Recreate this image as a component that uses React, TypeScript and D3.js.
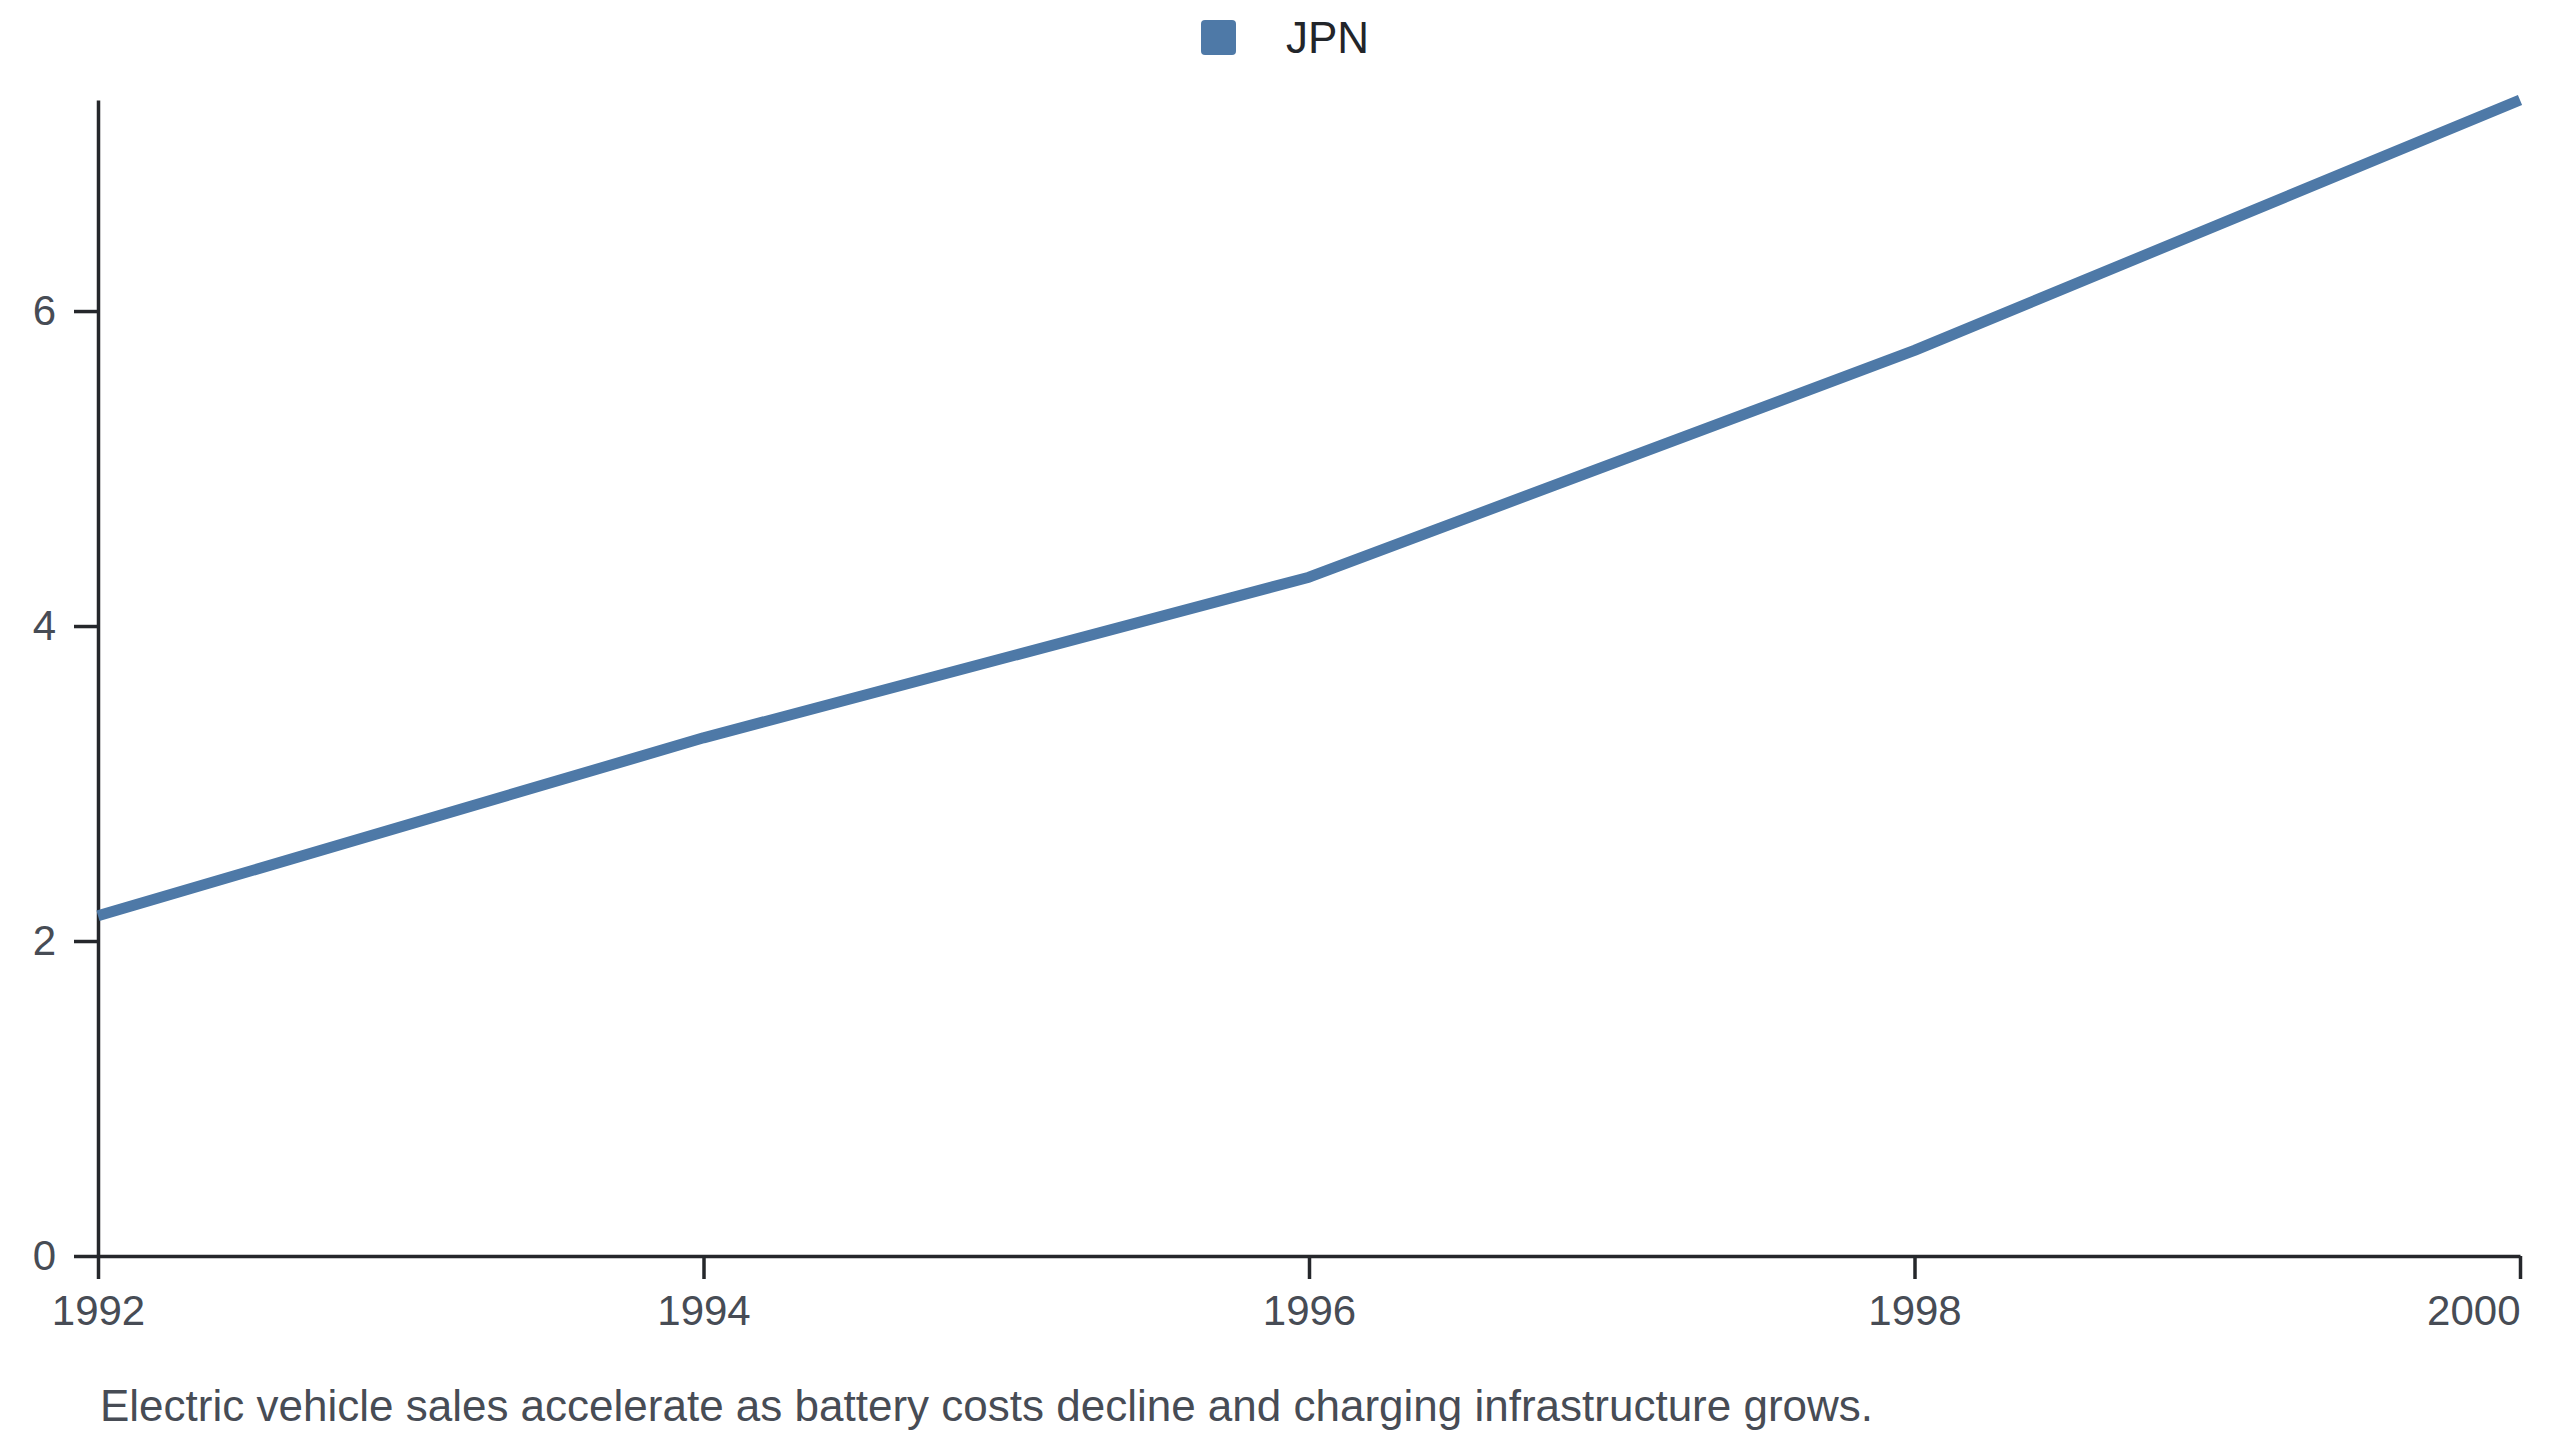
import { useEffect, useRef } from "react";
import * as d3 from "d3";

// values
const years = [1992, 1994, 1996, 1998, 2000];
const jpnValues = [2.16, 3.29, 4.31, 5.75, 7.34];
const yTicks = [0, 2, 4, 6];
const xTicks = [1992, 1994, 1996, 1998, 2000];
const seriesName = "JPN";
const caption =
  "Electric vehicle sales accelerate as battery costs decline and charging infrastructure grows.";

const App = () => {
  const ref = useRef<SVGSVGElement | null>(null);

  useEffect(() => {
    const width = 2560;
    const height = 1440;
    const margin = { top: 100, right: 40, bottom: 184, left: 98 };
    const font = "'Liberation Sans', Arial, Helvetica, sans-serif";
    const color = "#4e79a7";

    const svg = d3.select(ref.current);
    svg.selectAll("*").remove();

    const x = d3
      .scaleLinear()
      .domain([years[0], years[years.length - 1]])
      .range([margin.left, width - margin.right]);
    const y = d3
      .scaleLinear()
      .domain([0, d3.max(jpnValues) as number])
      .range([height - margin.bottom, margin.top]);

    const data = years.map((yr, i) => ({ year: yr, value: jpnValues[i] }));

    // x axis
    const xAxis = svg
      .append("g")
      .attr("transform", `translate(0,${height - margin.bottom})`)
      .call(
        d3
          .axisBottom(x)
          .tickValues(xTicks)
          .tickFormat(d3.format("d") as any)
          .tickSize(23)
          .tickSizeOuter(0)
          .tickPadding(16)
      );
    xAxis.select(".domain").attr("stroke", "#25272b").attr("stroke-width", 3.5);
    xAxis.selectAll(".tick line").attr("stroke", "#25272b").attr("stroke-width", 3.5);
    xAxis
      .selectAll(".tick text")
      .attr("fill", "#474c55")
      .style("font-size", "42px")
      .style("font-family", font)
      .attr("text-anchor", (_d, i) => (i === xTicks.length - 1 ? "end" : "middle"));

    // y axis
    const yAxis = svg
      .append("g")
      .attr("transform", `translate(${margin.left},0)`)
      .call(d3.axisLeft(y).tickValues(yTicks).tickSize(24).tickSizeOuter(0).tickPadding(18));
    yAxis.select(".domain").attr("stroke", "#25272b").attr("stroke-width", 3.5);
    yAxis.selectAll(".tick line").attr("stroke", "#25272b").attr("stroke-width", 3.5);
    yAxis
      .selectAll(".tick text")
      .attr("fill", "#474c55")
      .style("font-size", "42px")
      .style("font-family", font);

    // line
    const line = d3
      .line<{ year: number; value: number }>()
      .x(d => x(d.year))
      .y(d => y(d.value));
    svg
      .append("path")
      .datum(data)
      .attr("d", line)
      .attr("fill", "none")
      .attr("stroke", color)
      .attr("stroke-width", 11)
      .attr("stroke-linejoin", "round");

    // legend
    const legend = svg.append("g").attr("transform", "translate(1201,20)");
    legend
      .append("rect")
      .attr("width", 35)
      .attr("height", 35)
      .attr("rx", 4)
      .attr("fill", color);
    legend
      .append("text")
      .attr("x", 85)
      .attr("y", 33)
      .text(seriesName)
      .attr("fill", "#22252a")
      .style("font-size", "44px")
      .style("font-family", font);

    // caption
    svg
      .append("text")
      .attr("x", 100)
      .attr("y", 1421)
      .text(caption)
      .attr("fill", "#474c55")
      .style("font-size", "44px")
      .style("font-family", font);
  }, []);

  return (
    <svg
      ref={ref}
      width={2560}
      height={1440}
      style={{ position: "absolute", left: 0, top: 0, background: "#fff" }}
    />
  );
};

export default App;
